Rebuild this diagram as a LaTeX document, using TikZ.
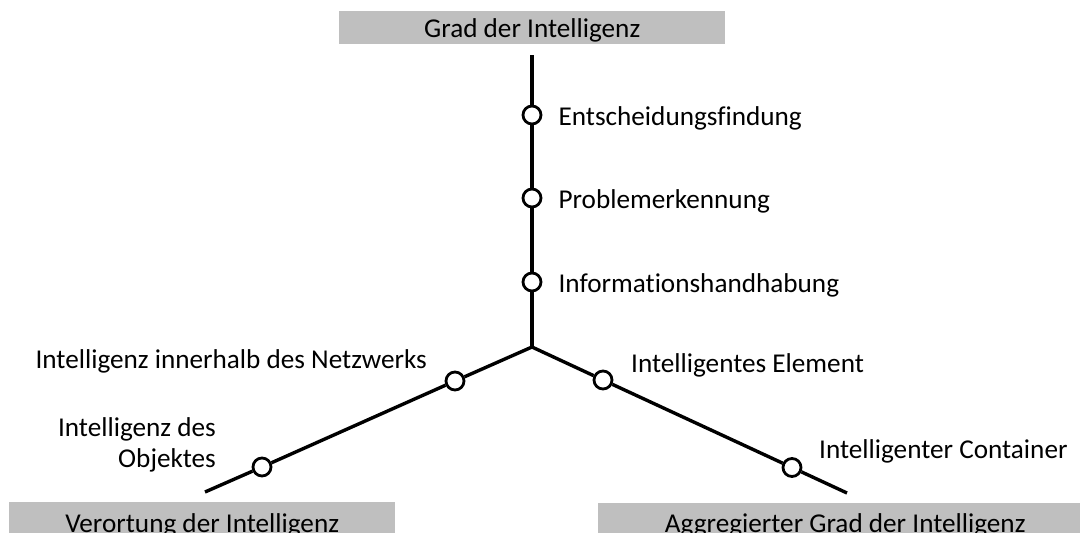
\documentclass[tikz,border=0pt]{standalone}
\usepackage{fontspec}
\setmainfont{Carlito}[Ligatures=CommonOff]
\usetikzlibrary{positioning}
\definecolor{boxgray}{HTML}{BFBFBF}

\begin{document}
\begin{tikzpicture}[x=1pt, y=-1pt,
    axis/.style={line width=3.4pt},
    stop/.style={circle, draw, line width=2.8pt, fill=white, minimum size=18pt, inner sep=0pt},
    axisbox/.style={rectangle, fill=boxgray, inner sep=0pt, text height=26pt, text depth=7pt, font=\fontsize{27.2}{31}\selectfont},
    lbl/.style={inner sep=0pt, font=\fontsize{27.2}{31}\selectfont}]
  \useasboundingbox (0,0) rectangle (1080,533);

  % axis titles
  \node[axisbox, minimum width=386pt, anchor=north west] (grad) at (339,11) {Grad der Intelligenz};
  \node[axisbox, minimum width=386pt, anchor=north west, text height=30pt, text depth=8pt] (ort) at (9,502) {Verortung der Intelligenz};
  \node[axisbox, minimum width=494pt, anchor=north west, text height=29pt, text depth=8pt] (agg) at (598,503) {Aggregierter Grad der Intelligenz};

  % hub and axis ends
  \coordinate (top) at (532,55);
  \coordinate (hub) at (532,347);
  \coordinate (lend) at (205,492);
  \coordinate (rend) at (847,493);

  % stops on the axes
  \node[stop] (s1) at (532,115) {};
  \node[stop] (s2) at (532,198) {};
  \node[stop] (s3) at (532,282) {};
  \node[stop] (l1) at (455,381) {};
  \node[stop] (l2) at (262,467) {};
  \node[stop] (r1) at (603,380) {};
  \node[stop] (r2) at (792,467.5) {};

  \draw[axis] (top) -- (s1) -- (s2) -- (s3) -- (hub);
  \draw[axis] (l1) -- (hub) -- (r1);
  \draw[axis] (l1) -- (l2) -- (lend);
  \draw[axis] (r1) -- (r2) -- (rend);

  % labels
  \node[lbl, anchor=base west] (entsch) at ([shift={(16,10)}]s1.east) {Entscheidungsfindung};
  \node[lbl, anchor=base west] (probl) at ([shift={(16,10)}]s2.east) {Problemerkennung};
  \node[lbl, anchor=base west] (info) at ([shift={(16,10)}]s3.east) {Informationshandhabung};
  \node[lbl, anchor=base east] (netz) at (427,368) {Intelligenz innerhalb des Netzwerks};
  \node[lbl, anchor=east, align=right] (obj) at (216,445) {Intelligenz des\\Objektes};
  \node[lbl, anchor=base west] (elem) at (631,372) {Intelligentes Element};
  \node[lbl, anchor=base west] (cont) at (819,458) {Intelligenter Container};
\end{tikzpicture}
\end{document}
